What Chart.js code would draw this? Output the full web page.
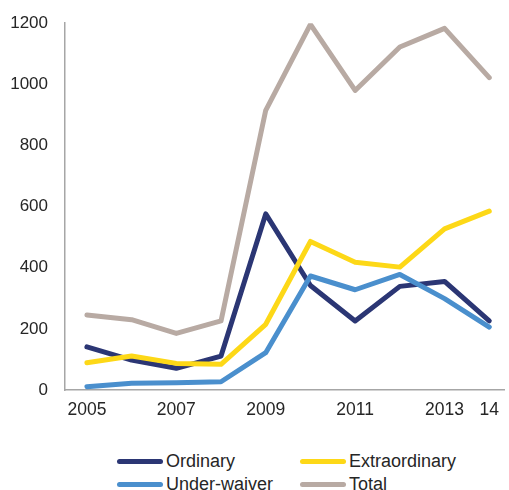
<!DOCTYPE html>
<html>
<head>
<meta charset="utf-8">
<script src="https://cdn.jsdelivr.net/npm/chart.js@4.4.1/dist/chart.umd.min.js"></script>
<style>
  html, body { margin: 0; padding: 0; background: #fff; }
  #wrap { position: relative; width: 509px; height: 490px; overflow: hidden; font-family: "Liberation Sans", Arial, sans-serif; }
  #box { position: absolute; left: 0; top: -4px; width: 509px; height: 444px; }
  .leg { position: absolute; display: flex; align-items: center; font-size: 18px; color: #262626; white-space: nowrap; }
  .leg .sw { width: 46px; height: 5px; border-radius: 3px; margin-right: 3px; }
</style>
</head>
<body>
<div id="wrap">
  <div id="box"><canvas id="c"></canvas></div>
  <div id="legend"></div>
</div>
<script>
const years = [2005, 2006, 2007, 2008, 2009, 2010, 2011, 2012, 2013, 2014];
const tickYears = [2005, 2007, 2009, 2011, 2013, 2014];
const ordinary      = [141, 98, 71, 111, 576, 342, 226, 339, 355, 226];
const extraordinary = [89, 111, 87, 84, 215, 486, 418, 402, 527, 585];
const underWaiver   = [11, 22, 24, 27, 122, 373, 328, 378, 299, 206];
const total         = [245, 230, 185, 226, 915, 1196, 980, 1122, 1183, 1022];
const seriesNames = ["Ordinary", "Extraordinary", "Under-waiver", "Total"];
const seriesColors = ["#2B3674", "#FDD817", "#4A8FCD", "#B8AAA3"];
const seriesData = [ordinary, extraordinary, underWaiver, total];

const toPts = arr => arr.map((v, i) => ({ x: years[i], y: v }));
const drawOrder = [3, 0, 1, 2];

const datasets = seriesNames.map((name, i) => ({
  label: name,
  data: toPts(seriesData[i]),
  borderColor: seriesColors[i],
  backgroundColor: seriesColors[i],
  borderWidth: 5,
  pointRadius: 0,
  tension: 0,
  fill: false,
  order: drawOrder[i],
  borderJoinStyle: 'round',
  borderCapStyle: 'round'
}));

Chart.defaults.font.family = '"Liberation Sans", Arial, sans-serif';
Chart.defaults.color = '#262626';

new Chart(document.getElementById('c'), {
  type: 'line',
  data: { datasets },
  options: {
    responsive: true,
    maintainAspectRatio: false,
    animation: false,
    layout: { padding: { top: 4, right: 0, left: 0, bottom: 0 } },
    plugins: { legend: { display: false }, tooltip: { enabled: false } },
    scales: {
      x: {
        type: 'linear',
        min: 2004.51,
        max: 2014.33,
        afterBuildTicks: s => { s.ticks = tickYears.map(v => ({ value: v })); },
        ticks: {
          font: { size: 17.5 },
          color: '#262626',
          padding: 10,
          maxRotation: 0,
          autoSkip: false,
          callback: v => v === 2014 ? '14' : String(v)
        },
        grid: { display: false, drawTicks: false },
        border: { display: true, color: '#A6A6A6', width: 1.5 },
        afterFit: s => { s.height = 50; }
      },
      y: {
        min: 0,
        max: 1200,
        ticks: { stepSize: 200, font: { size: 17 }, color: '#262626', padding: 17, callback: v => String(v) },
        grid: { display: false, drawTicks: false },
        border: { display: true, color: '#A6A6A6', width: 1.5 },
        afterFit: s => { s.width = 65; }
      }
    }
  }
});

// legend (two columns, built from the series arrays)
const legPos = [[117, 461], [300, 461], [117, 484], [300, 484]];
const leg = document.getElementById('legend');
seriesNames.forEach((name, i) => {
  const d = document.createElement('div');
  d.className = 'leg';
  d.style.left = legPos[i][0] + 'px';
  d.style.top = (legPos[i][1] - 10) + 'px';
  d.style.height = '20px';
  d.innerHTML = '<span class="sw" style="background:' + seriesColors[i] + '"></span><span>' + name + '</span>';
  leg.appendChild(d);
});
</script>
</body>
</html>
